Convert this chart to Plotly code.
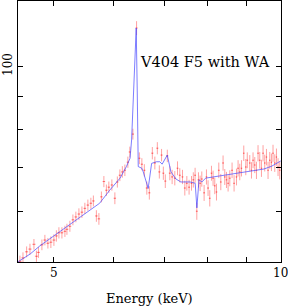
import plotly.graph_objects as go

energy = [4.507, 4.549, 4.600, 4.647, 4.704, 4.740, 4.769, 4.820, 4.864, 4.909,
          4.954, 5.000, 5.038, 5.077, 5.124, 5.171, 5.203, 5.250, 5.299, 5.347,
          5.397, 5.447, 5.496, 5.547, 5.598, 5.641, 5.693, 5.737, 5.781, 5.825,
          5.870, 5.914, 5.969, 6.024, 6.070, 6.117, 6.163, 6.211, 6.268, 6.306,
          6.365, 6.437, 6.492, 6.542, 6.592, 6.642, 6.693, 6.755, 6.807, 6.859,
          6.901, 6.948, 6.986, 7.028, 7.071, 7.126, 7.176, 7.235, 7.295, 7.346,
          7.407, 7.460, 7.506, 7.558, 7.614, 7.656, 7.698, 7.738, 7.778, 7.817,
          7.857, 7.913, 7.970, 8.009, 8.051, 8.093, 8.133, 8.175, 8.218, 8.276,
          8.327, 8.385, 8.429, 8.473, 8.515, 8.559, 8.619, 8.672, 8.736, 8.779,
          8.824, 8.870, 8.933, 8.988, 9.029, 9.098, 9.146, 9.190, 9.238, 9.286,
          9.331, 9.380, 9.429, 9.475, 9.524, 9.574, 9.621, 9.671, 9.721, 9.768,
          9.820, 9.871, 9.919, 9.971]
counts = [50.4, 51.0, 52.1, 52.6, 53.5, 51.3, 52.0, 53.4, 54.3, 53.7,
          53.9, 54.3, 55.1, 55.7, 55.7, 56.0, 56.4, 57.0, 58.3, 58.9,
          59.5, 59.9, 60.7, 61.4, 61.8, 62.3, 59.1, 58.5, 63.2, 66.7,
          64.7, 65.4, 65.9, 62.9, 66.6, 68.2, 69.0, 69.4, 71.4, 74.0,
          78.8, 114.4, 72.4, 70.9, 69.4, 65.2, 64.1, 73.7, 71.2, 75.0,
          69.0, 73.2, 68.7, 66.8, 73.0, 68.7, 67.8, 67.5, 69.9, 68.2,
          67.8, 65.2, 66.3, 65.4, 66.3, 67.1, 68.2, 60.1, 67.1, 66.3,
          67.3, 64.1, 67.8, 65.2, 62.9, 68.7, 67.5, 65.7, 64.3, 69.4,
          66.6, 71.2, 67.8, 67.1, 66.3, 67.5, 69.4, 66.3, 67.8, 69.9,
          69.0, 69.9, 73.7, 70.2, 71.9, 71.2, 69.4, 71.9, 70.7, 69.4,
          73.7, 71.9, 69.9, 73.7, 71.2, 72.7, 69.4, 71.9, 71.4, 73.7,
          71.2, 72.7, 70.2, 69.4]
count_err = [1.0, 1.0, 1.0, 1.0, 1.0, 1.0, 1.0, 1.0, 1.0, 1.0,
             1.1, 1.1, 1.1, 1.1, 1.1, 1.1, 1.1, 1.1, 1.1, 1.1,
             1.2, 1.2, 1.2, 1.2, 1.2, 1.2, 1.2, 1.2, 1.2, 1.3,
             1.3, 1.3, 1.3, 1.3, 1.3, 1.4, 1.4, 1.4, 1.4, 1.4,
             1.5, 2.8, 1.5, 1.5, 1.5, 1.5, 1.5, 1.6, 1.6, 1.6,
             1.6, 1.6, 1.6, 1.6, 1.6, 1.7, 1.7, 1.7, 1.7, 1.7,
             1.7, 1.7, 1.7, 1.7, 1.7, 1.8, 1.8, 1.8, 1.8, 1.8,
             1.8, 1.8, 1.8, 1.8, 1.8, 1.8, 1.8, 1.9, 1.9, 1.9,
             1.9, 1.9, 1.9, 1.9, 1.9, 1.9, 1.9, 1.9, 2.0, 2.0,
             2.0, 2.0, 2.0, 2.0, 2.0, 2.0, 2.0, 2.0, 2.0, 2.1,
             2.1, 2.1, 2.1, 2.1, 2.1, 2.1, 2.1, 2.1, 2.2, 2.2,
             2.2, 2.2, 2.2, 2.2]
energy_halfbin = 0.022

# Model curve
model_energy = [4.48, 4.65, 4.79, 5.00, 5.25, 5.50, 5.75, 5.93, 6.12, 6.24,
                6.31, 6.34, 6.37, 6.43, 6.45, 6.47, 6.54, 6.57, 6.67, 6.74,
                6.84, 6.91, 6.96, 7.07, 7.15, 7.26, 7.37, 7.58, 7.70, 7.74,
                7.79, 7.86, 7.95, 8.30, 8.61, 8.93, 9.27, 9.50, 9.73, 10.0]
model_counts = [50.3, 51.7, 53.2, 55.1, 57.2, 59.5, 61.8, 64.7, 67.5, 70.3,
                72.4, 77.2, 88.8, 114.4, 92.0, 70.3, 69.9, 69.0, 65.1, 71.1,
                71.5, 71.5, 70.9, 73.2, 69.0, 67.3, 66.6, 66.6, 66.3, 60.8,
                67.1, 66.6, 67.5, 68.0, 68.5, 69.0, 69.3, 69.7, 70.4, 71.7]

x_tickvals = [5, 6, 7, 8, 9, 10]
x_ticktext = ["5", "", "", "", "", "10"]
y_tickvals = [60, 70, 80, 90, 100]
y_ticktext = ["", "", "", "", "100"]

FONT = "DejaVu Serif"

fig = go.Figure()
fig.add_trace(go.Scatter(
    x=energy, y=counts, mode="markers",
    marker=dict(size=1, color="rgba(255,60,60,0.7)"),
    error_y=dict(type="data", array=count_err, visible=True,
                 color="rgba(255,70,70,0.5)", thickness=1, width=0),
    error_x=dict(type="constant", value=energy_halfbin, visible=True,
                 color="rgba(255,60,60,0.6)", thickness=1, width=0),
    showlegend=False, hoverinfo="skip"))
fig.add_trace(go.Scatter(
    x=model_energy, y=model_counts, mode="lines",
    line=dict(color="rgba(70,70,255,0.7)", width=1),
    showlegend=False, hoverinfo="skip"))

fig.add_annotation(text="V404 F5 with WA", xref="paper", yref="paper",
                   x=0.455, y=0.765, xanchor="left", yanchor="middle",
                   showarrow=False, font=dict(family=FONT, size=14.5, color="black"))
fig.add_annotation(text="Energy (keV)", xref="paper", yref="paper",
                   x=0.5, y=-0.138, xanchor="center", yanchor="middle",
                   showarrow=False, font=dict(family=FONT, size=13, color="black"))

fig.update_xaxes(type="log", range=[0.6513, 1.0004], tickvals=x_tickvals, ticktext=x_ticktext,
                 ticks="inside", ticklen=5, tickcolor="black", showline=True, linecolor="black",
                 linewidth=1, mirror="ticks", showgrid=False, zeroline=False, automargin=False,
                 ticklabeloverflow="allow",
                 tickfont=dict(family=FONT, size=12, color="black"))
fig.update_yaxes(type="log", range=[1.7013, 2.0997], tickvals=y_tickvals, ticktext=y_ticktext,
                 ticks="inside", ticklen=5, tickcolor="black", showline=True, linecolor="black",
                 linewidth=1, mirror="ticks", showgrid=False, zeroline=False, tickangle=-90,
                 automargin=False,
                 tickfont=dict(family=FONT, size=12, color="black"))
fig.update_layout(width=288, height=307, margin=dict(l=18, r=7, t=1, b=45),
                  paper_bgcolor="white", plot_bgcolor="white")
fig.write_html("out.html", config={"displayModeBar": False},
               post_script="document.body.style.margin='0';document.body.style.padding='0';")
